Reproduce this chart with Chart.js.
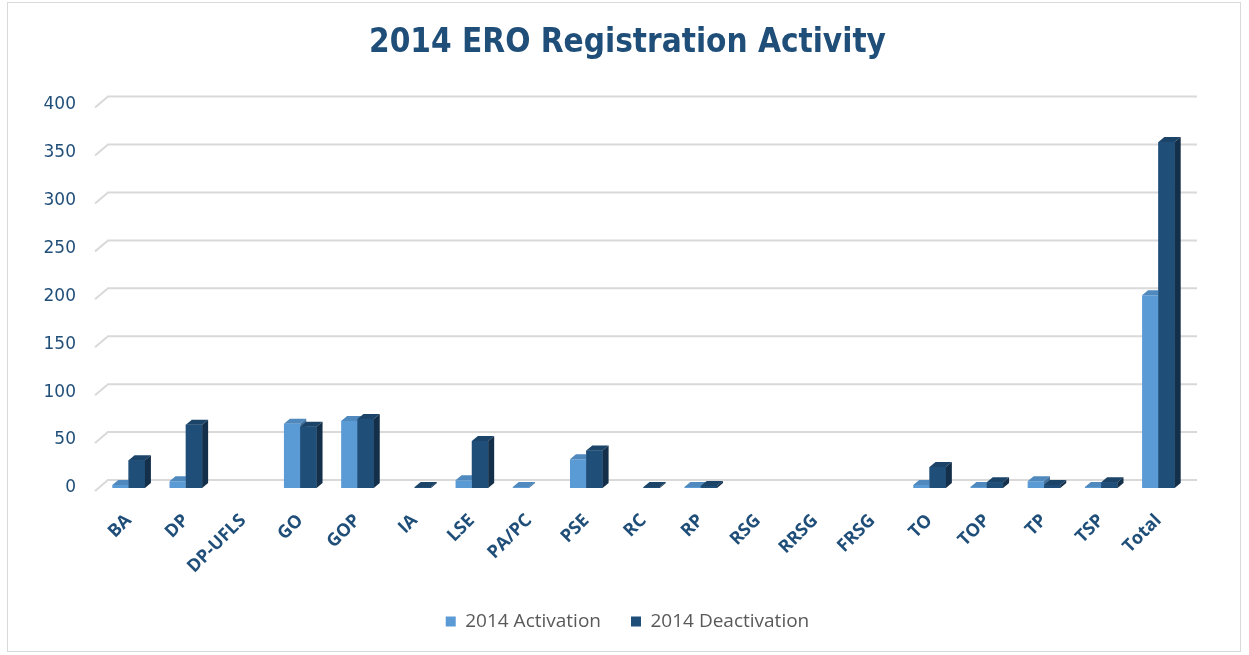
<!DOCTYPE html>
<html>
<head>
<meta charset="utf-8">
<title>2014 ERO Registration Activity</title>
<script src="https://cdn.jsdelivr.net/npm/chart.js@4.4.0/dist/chart.umd.min.js"></script>
<style>
    html, body { margin: 0; padding: 0; background: #ffffff; }
    #wrap { position: relative; width: 1249px; height: 655px; }
    #frame { position: absolute; left: 7px; top: 2px; width: 1232px; height: 648px; border: 1px solid #d9d9d9; pointer-events: none; }
</style>
</head>
<body>
<div id="wrap">
    <canvas id="chartEro" width="1249" height="655"></canvas>
    <div id="frame"></div>
</div>
<script>
// Categorias y valores
var categories = ['BA', 'DP', 'DP-UFLS', 'GO', 'GOP', 'IA', 'LSE', 'PA/PC', 'PSE', 'RC', 'RP', 'RSG', 'RRSG', 'FRSG', 'TO', 'TOP', 'TP', 'TSP', 'Total'];
var activation = [3, 7, 0, 67, 70, 0, 8, 1, 30, 0, 1, 0, 0, 0, 3, 1, 7, 1, 201];
var deactivation = [29, 66, 0, 64, 72, 1, 49, 0, 39, 1, 2, 0, 0, 0, 22, 6, 3, 6, 361];
var yTicks = [0, 50, 100, 150, 200, 250, 300, 350, 400];
var seriesNames = ['2014 Activation', '2014 Deactivation'];

var blueDark = '#1F4E79';
var colors = {
    act: { front: '#5B9BD5', top: '#4F89BE', side: '#41719C' },
    deact: { front: '#1F4E79', top: '#1B4468', side: '#142F4A' }
};
var depth = { dx: 6, dy: 5 };
var wall = { dx: 13, dy: 11 };

// Pared del fondo con las lineas de la cuadricula en perspectiva
var backWall = {
    id: 'backWall',
    beforeDatasetsDraw: function(chart) {
        var ctx = chart.ctx;
        var y = chart.scales.y;
        var area = chart.chartArea;
        ctx.save();
        ctx.strokeStyle = '#d9d9d9';
        ctx.lineWidth = 2;
        yTicks.forEach(function(v) {
            var py = y.getPixelForValue(v);
            ctx.beginPath();
            ctx.moveTo(area.left - 5, py + 3);
            ctx.lineTo(area.left - 5 + wall.dx, py + 3 - wall.dy);
            ctx.lineTo(area.right + 10, py + 3 - wall.dy);
            ctx.stroke();
        });
        ctx.restore();
    }
};

function drawBox(ctx, bar, c, redrawFront) {
    var p = bar.getProps(['x', 'y', 'base', 'width'], true);
    var l = p.x - p.width / 2;
    var r = p.x + p.width / 2;
    if (redrawFront) {
        ctx.fillStyle = c.front;
        ctx.fillRect(l, p.y, r - l, p.base - p.y);
    }
    // cara superior
    ctx.fillStyle = c.top;
    ctx.beginPath();
    ctx.moveTo(l, p.y);
    ctx.lineTo(r, p.y);
    ctx.lineTo(r + depth.dx, p.y - depth.dy);
    ctx.lineTo(l + depth.dx, p.y - depth.dy);
    ctx.closePath();
    ctx.fill();
    // cara lateral
    ctx.fillStyle = c.side;
    ctx.beginPath();
    ctx.moveTo(r, p.y);
    ctx.lineTo(r + depth.dx, p.y - depth.dy);
    ctx.lineTo(r + depth.dx, p.base - depth.dy);
    ctx.lineTo(r, p.base);
    ctx.closePath();
    ctx.fill();
}

// Efecto 3D de las barras
var bars3d = {
    id: 'bars3d',
    afterDatasetsDraw: function(chart) {
        var ctx = chart.ctx;
        var m0 = chart.getDatasetMeta(0).data;
        var m1 = chart.getDatasetMeta(1).data;
        ctx.save();
        for (var i = 0; i < m0.length; i++) {
            if (activation[i] > 0) drawBox(ctx, m0[i], colors.act, false);
            if (deactivation[i] > 0) drawBox(ctx, m1[i], colors.deact, true);
        }
        ctx.restore();
    }
};

var dataEro = {
    labels: categories,
    datasets: [{
        label: seriesNames[0],
        data: activation,
        backgroundColor: colors.act.front,
        borderWidth: 0
    }, {
        label: seriesNames[1],
        data: deactivation,
        backgroundColor: colors.deact.front,
        borderWidth: 0
    }]
};

var optionsEro = {
    responsive: false,
    animation: false,
    layout: { padding: { left: 6, right: 0, top: 0, bottom: 14 } },
    datasets: { bar: { categoryPercentage: 0.57, barPercentage: 1.0 } },
    plugins: {
        title: {
            display: true,
            text: '2014 ERO Registration Activity',
            color: blueDark,
            font: { family: '"DejaVu Sans Condensed", "DejaVu Sans", sans-serif', size: 33, weight: 'bold' },
            padding: { top: 24, bottom: 41 }
        },
        legend: {
            position: 'bottom',
            labels: {
                boxWidth: 10,
                boxHeight: 10,
                padding: 30,
                color: '#595959',
                font: { family: '"Open Sans", sans-serif', size: 19 }
            }
        },
        tooltip: { enabled: false }
    },
    scales: {
        x: {
            grid: { display: false },
            border: { display: false },
            ticks: {
                autoSkip: false,
                maxRotation: 45,
                minRotation: 45,
                padding: 14,
                color: blueDark,
                font: { family: '"Open Sans", sans-serif', size: 18, weight: 'bold' }
            },
            afterFit: function(scale) { scale.height = 94; }
        },
        y: {
            min: 0,
            max: 400,
            grid: { display: false },
            border: { display: false },
            ticks: {
                stepSize: 50,
                padding: 16,
                color: blueDark,
                font: { family: '"DejaVu Sans", sans-serif', size: 17 }
            },
            afterFit: function(scale) { scale.width = 94; }
        },
        yRight: {
            position: 'right',
            grid: { display: false },
            border: { display: false },
            ticks: { display: false },
            afterFit: function(scale) { scale.width = 62; }
        }
    }
};

var ctxEro = document.getElementById('chartEro').getContext('2d');
new Chart(ctxEro, {
    type: 'bar',
    data: dataEro,
    options: optionsEro,
    plugins: [backWall, bars3d]
});
</script>
</body>
</html>
